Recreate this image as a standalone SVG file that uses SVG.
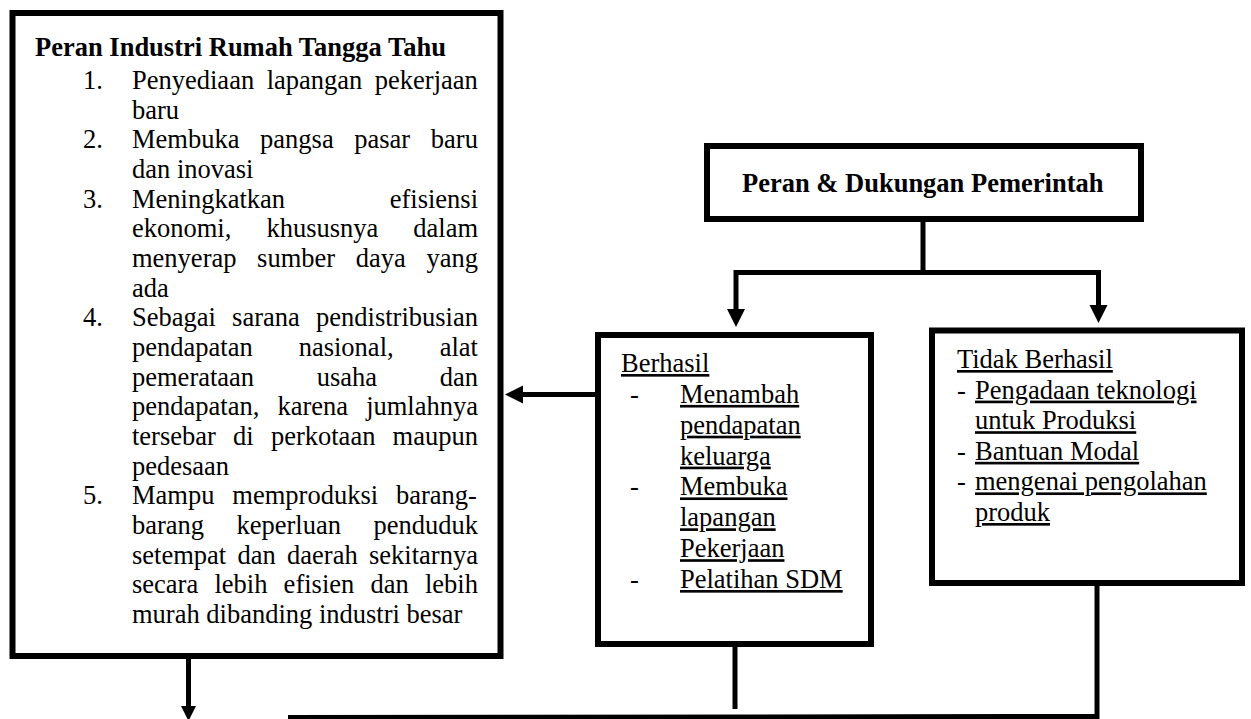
<svg xmlns="http://www.w3.org/2000/svg" width="1251" height="719" viewBox="0 0 1251 719">
<style>
.box{fill:#fff;stroke:#000;stroke-width:6}
.t{font-family:"Liberation Serif","Times New Roman",serif;font-size:26.5px;fill:#000}
.b{font-weight:bold}
.u{text-decoration:underline}
.c{fill:none;stroke:#000;stroke-width:5}
</style>
<defs>
<marker id="arr" markerUnits="userSpaceOnUse" markerWidth="18" markerHeight="18" refX="0" refY="9" orient="auto" overflow="visible">
<path d="M0,0 L18,9 L0,18 z" fill="#000"/>
</marker>
<marker id="arrs" markerUnits="userSpaceOnUse" markerWidth="15" markerHeight="16" refX="0" refY="7.5" orient="auto" overflow="visible">
<path d="M0,0 L15,7.5 L0,15 z" fill="#000"/>
</marker>
</defs>
<g id="node-peran-industri">
<rect class="box" x="12.5" y="13" width="488" height="643"/>
<text class="t b" x="35" y="56">Peran Industri Rumah Tangga Tahu</text>
<text class="t" x="83" y="89">1.</text>
<text class="t" x="132" y="89" word-spacing="5.9">Penyediaan lapangan pekerjaan</text>
<text class="t" x="132" y="118.7">baru</text>
<text class="t" x="83" y="148.3">2.</text>
<text class="t" x="132" y="148.3" word-spacing="14">Membuka pangsa pasar baru</text>
<text class="t" x="132" y="178">dan inovasi</text>
<text class="t" x="83" y="207.7">3.</text>
<text class="t" x="132" y="207.7">Meningkatkan</text>
<text class="t" x="478" y="207.7" text-anchor="end">efisiensi</text>
<text class="t" x="132" y="237.3" word-spacing="28.4">ekonomi, khususnya dalam</text>
<text class="t" x="132" y="267" word-spacing="14">menyerap sumber daya yang</text>
<text class="t" x="132" y="296.7">ada</text>
<text class="t" x="83" y="326.4">4.</text>
<text class="t" x="132" y="326.4" word-spacing="9.6">Sebagai sarana pendistribusian</text>
<text class="t" x="132" y="356" word-spacing="39.4">pendapatan nasional, alat</text>
<text class="t" x="132" y="385.7" word-spacing="56">pemerataan usaha dan</text>
<text class="t" x="132" y="415.4" word-spacing="11.5">pendapatan, karena jumlahnya</text>
<text class="t" x="132" y="445" word-spacing="10.6">tersebar di perkotaan maupun</text>
<text class="t" x="132" y="474.7">pedesaan</text>
<text class="t" x="83" y="504.4">5.</text>
<text class="t" x="132" y="504.4" word-spacing="11.3">Mampu memproduksi barang-</text>
<text class="t" x="132" y="534" word-spacing="25.8">barang keperluan penduduk</text>
<text class="t" x="132" y="563.7" word-spacing="4.7">setempat dan daerah sekitarnya</text>
<text class="t" x="132" y="593.4" word-spacing="9.6">secara lebih efisien dan lebih</text>
<text class="t" x="132" y="623">murah dibanding industri besar</text>
</g>
<g id="node-peran-pemerintah">
<rect class="box" x="707" y="146" width="434" height="73"/>
<text class="t b" x="742" y="192">Peran &amp; Dukungan Pemerintah</text>
</g>
<g id="node-berhasil">
<rect class="box" x="598" y="335" width="273" height="309"/>
<text class="t u" x="621" y="372">Berhasil</text>
<text class="t" x="630" y="402.9">-</text>
<text class="t u" x="680" y="402.9">Menambah</text>
<text class="t u" x="680" y="433.7">pendapatan</text>
<text class="t u" x="680" y="464.6">keluarga</text>
<text class="t" x="630" y="495.4">-</text>
<text class="t u" x="680" y="495.4">Membuka</text>
<text class="t u" x="680" y="526.3">lapangan</text>
<text class="t u" x="680" y="557.2">Pekerjaan</text>
<text class="t" x="630" y="588">-</text>
<text class="t u" x="680" y="588">Pelatihan SDM</text>
</g>
<g id="node-tidak-berhasil">
<rect class="box" x="932" y="330.5" width="310" height="252.5"/>
<text class="t u" x="957" y="368">Tidak Berhasil</text>
<text class="t" x="957" y="398.6">-</text>
<text class="t u" x="975" y="398.6">Pengadaan teknologi</text>
<text class="t u" x="975" y="429.2">untuk Produksi</text>
<text class="t" x="957" y="459.8">-</text>
<text class="t u" x="975" y="459.8">Bantuan Modal</text>
<text class="t" x="957" y="490.4">-</text>
<text class="t u" x="975" y="490.4">mengenai pengolahan</text>
<text class="t u" x="975" y="521">produk</text>
</g>
<g id="connectors">
<path class="c" d="M923,222 V272.5"/>
<path class="c" d="M736,272.5 H1098.5"/>
<path class="c" d="M736,270 V309" marker-end="url(#arr)"/>
<path class="c" d="M1098.5,270 V305" marker-end="url(#arr)"/>
<path class="c" d="M595,394.5 H523" marker-end="url(#arr)"/>
<path class="c" d="M735,647 V709" stroke-width="4"/>
<path class="c" d="M1097,586 V716.5 L288,717.5" stroke-width="5"/>
<path class="c" d="M188.5,659 V706" stroke-width="5" marker-end="url(#arrs)"/>
</g>
</svg>
